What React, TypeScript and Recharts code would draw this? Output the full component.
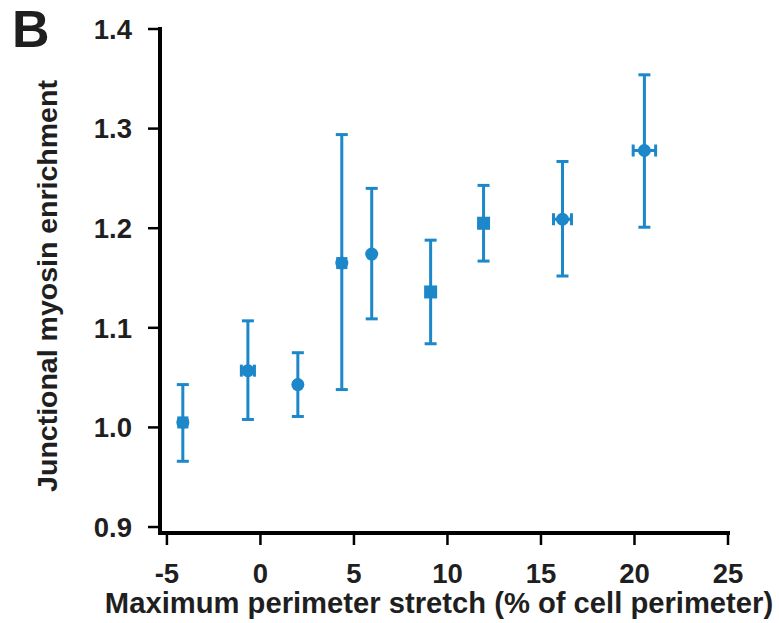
import React from 'react';
import { ScatterChart, Scatter, XAxis, YAxis, ErrorBar } from 'recharts';

// Mean junctional myosin enrichment against maximum perimeter stretch
const stretch = [-4.15, -0.67, 2.0, 4.35, 5.95, 9.1, 11.93, 16.15, 20.53];
const enrichment = [1.005, 1.057, 1.043, 1.165, 1.174, 1.136, 1.205, 1.209, 1.278];
const enrichmentUpper = [1.043, 1.107, 1.075, 1.294, 1.24, 1.188, 1.243, 1.267, 1.354];
const enrichmentLower = [0.966, 1.008, 1.011, 1.038, 1.109, 1.084, 1.167, 1.152, 1.201];
const stretchErr = [0.22, 0.35, 0, 0.22, 0, 0.22, 0.22, 0.48, 0.6];
const markerShape = ['circle', 'circle', 'circle', 'circle', 'circle', 'square', 'square', 'circle', 'circle'];

const xTicks = [-5, 0, 5, 10, 15, 20, 25];
const yTicks = [0.9, 1.0, 1.1, 1.2, 1.3, 1.4];

const BLUE = '#1c87c9';
const INK = '#1f1f1f';
const FONT = '"Liberation Sans", Arial, Helvetica, sans-serif';

const rows = stretch.map((x, i) => ({
  x,
  y: enrichment[i],
  yErr: [enrichment[i] - enrichmentLower[i], enrichmentUpper[i] - enrichment[i]],
  xErr: [stretchErr[i], stretchErr[i]],
  shape: markerShape[i],
}));

const circleRows = rows.filter((r) => r.shape === 'circle');
const squareRows = rows.filter((r) => r.shape === 'square');

const CircleMark = (props: any) => <circle cx={props.cx} cy={props.cy} r={6.5} fill={BLUE} />;
const SquareMark = (props: any) => (
  <rect x={props.cx - 6.5} y={props.cy - 6.5} width={13} height={13} fill={BLUE} />
);

const tickStyle = { fill: INK, fontSize: 27.5, fontWeight: 700, fontFamily: FONT };

export default function App() {
  return (
    <div style={{ position: 'absolute', left: 0, top: 0, width: 779, height: 623, background: '#fff' }}>
      <div
        style={{
          position: 'absolute',
          left: 12,
          top: 3,
          fontFamily: FONT,
          fontWeight: 700,
          fontSize: 52,
          lineHeight: '52px',
          color: INK,
        }}
      >
        B
      </div>
      <ScatterChart width={779} height={623} margin={{ top: 29, right: 51, bottom: 0, left: 0 }}>
        <XAxis
          type="number"
          dataKey="x"
          domain={[-5.37, 25]}
          ticks={xTicks}
          allowDataOverflow
          height={90}
          tickSize={12}
          tickMargin={18}
          tick={tickStyle}
          axisLine={{ stroke: '#000', strokeWidth: 4, strokeLinecap: 'square' }}
          tickLine={{ stroke: '#000', strokeWidth: 2.5 }}
          label={{
            value: 'Maximum perimeter stretch (% of cell perimeter)',
            position: 'insideBottom',
            offset: 10,
            dx: -5,
            style: { fill: INK, fontSize: 29.2, fontWeight: 700, fontFamily: FONT },
          }}
        />
        <YAxis
          type="number"
          dataKey="y"
          domain={[0.894, 1.4]}
          ticks={yTicks}
          allowDataOverflow
          width={160}
          tickSize={12}
          tickMargin={16}
          tick={tickStyle}
          tickFormatter={(v: number) => v.toFixed(1)}
          axisLine={{ stroke: '#000', strokeWidth: 4, strokeLinecap: 'square' }}
          tickLine={{ stroke: '#000', strokeWidth: 2.5 }}
          label={{
            value: 'Junctional myosin enrichment',
            angle: -90,
            position: 'insideLeft',
            offset: 47,
            dy: 5,
            style: { textAnchor: 'middle', fill: INK, fontSize: 28.5, fontWeight: 700, fontFamily: FONT },
          }}
        />
        <Scatter data={circleRows} shape={CircleMark} isAnimationActive={false}>
          <ErrorBar dataKey="yErr" direction="y" width={6} stroke={BLUE} strokeWidth={3} />
          <ErrorBar dataKey="xErr" direction="x" width={6} stroke={BLUE} strokeWidth={3} />
        </Scatter>
        <Scatter data={squareRows} shape={SquareMark} isAnimationActive={false}>
          <ErrorBar dataKey="yErr" direction="y" width={6} stroke={BLUE} strokeWidth={3} />
          <ErrorBar dataKey="xErr" direction="x" width={6} stroke={BLUE} strokeWidth={3} />
        </Scatter>
      </ScatterChart>
    </div>
  );
}
